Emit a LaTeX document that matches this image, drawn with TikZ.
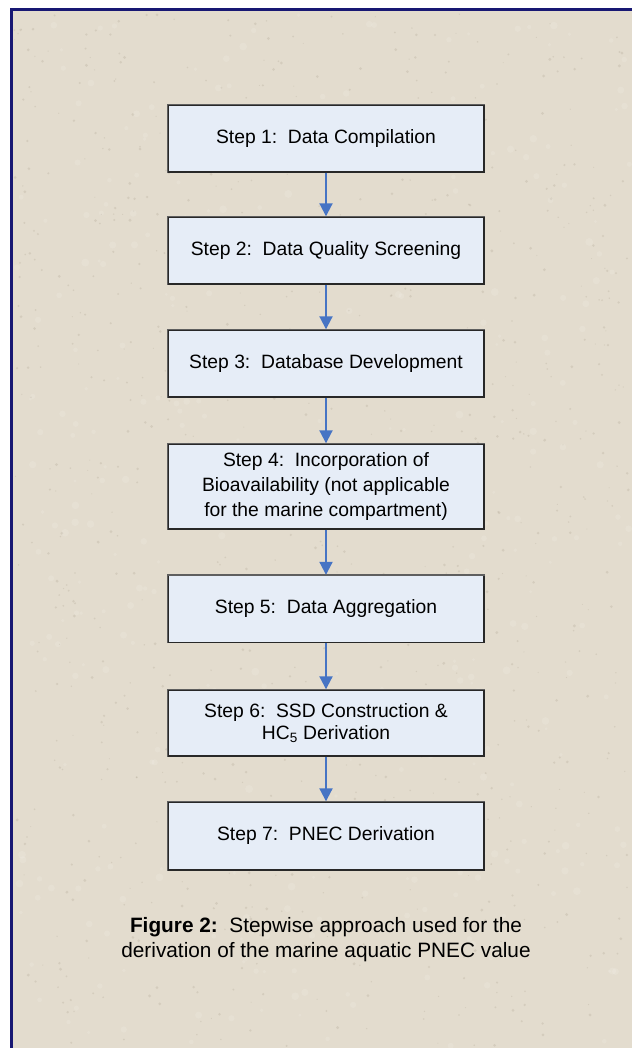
\documentclass[tikz,border=0pt]{standalone}
\usepackage{fontspec}
\setmainfont{Liberation Sans}
\usetikzlibrary{arrows.meta}
\definecolor{paper}{RGB}{227,220,206}
\definecolor{grain}{RGB}{185,175,158}
\definecolor{boxfill}{RGB}{230,237,247}
\definecolor{boxline}{RGB}{40,40,40}
\definecolor{boxedge}{RGB}{95,95,95}
\definecolor{flow}{RGB}{70,116,196}
\definecolor{frame}{RGB}{24,24,115}
\tikzset{
  stepbox/.style={draw=boxline, line width=1.4pt, fill=boxfill,
    minimum width=316pt, minimum height=67pt, inner sep=0pt,
    align=center, text=black,
    font=\fontsize{19.3pt}{25pt}\selectfont},
  flowarrow/.style={draw=flow, line width=2pt,
    -{Triangle[width=13pt,length=13pt]}},
  caption/.style={align=center, text=black,
    font=\fontsize{20.8pt}{25pt}\selectfont}
}
\begin{document}
\begin{tikzpicture}[x=1pt,y=-1pt]
  \useasboundingbox (0,0) rectangle (632,1048);
  % sheet with a light grain, and its frame
  \fill[white] (0,0) rectangle (632,1048);
  \fill[paper] (11,10) rectangle (632,1048);
  \pgfmathsetseed{2718}
  \foreach \k in {1,...,900} {
    \pgfmathsetmacro{\gx}{14+rnd*616}
    \pgfmathsetmacro{\gy}{13+rnd*1033}
    \pgfmathsetmacro{\gr}{0.5+rnd*1.1}
    \fill[grain, opacity=0.35] (\gx,\gy) circle[radius=\gr pt];
  }
  \foreach \k in {1,...,400} {
    \pgfmathsetmacro{\gx}{14+rnd*616}
    \pgfmathsetmacro{\gy}{13+rnd*1033}
    \pgfmathsetmacro{\gr}{1.5+rnd*2.5}
    \fill[white, opacity=0.12] (\gx,\gy) circle[radius=\gr pt];
  }
  \draw[frame, line width=3pt] (11,1048) -- (11,10) -- (632,10);

  % process steps
  \node[stepbox] (s1) at (326,138.5) {Step 1:\ \ Data Compilation};
  \node[stepbox] (s2) at (326,250.5) {Step 2:\ \ Data Quality Screening};
  \node[stepbox] (s3) at (326,363.5) {Step 3:\ \ Database Development};
  \node[stepbox, minimum height=85pt] (s4) at (326,486.5)
    {Step 4:\ \ Incorporation of\\Bioavailability (not applicable\\for the marine compartment)};
  \node[stepbox] (s5) at (326,609) {Step 5:\ \ Data Aggregation};
  \node[stepbox, minimum height=66pt] (s6) at (326,723)
    {Step 6:\ \ SSD Construction \&\\[-3pt]HC\textsubscript{5} Derivation};
  \node[stepbox, minimum height=68pt] (s7) at (326,836) {Step 7:\ \ PNEC Derivation};

  % lighter top and left edges of each step box
  \foreach \s in {s1,s2,s3,s4,s5,s6,s7}
    \draw[boxedge, line width=1.4pt] (\s.south west) -- (\s.north west) -- (\s.north east);

  % connectors
  \draw[flowarrow] (s1.south) -- (s2.north);
  \draw[flowarrow] (s2.south) -- (s3.north);
  \draw[flowarrow] (s3.south) -- (s4.north);
  \draw[flowarrow] (s4.south) -- (s5.north);
  \draw[flowarrow] (s5.south) -- (s6.north);
  \draw[flowarrow] (s6.south) -- (s7.north);

  % caption
  \node[caption] (cap) at (326,940)
    {\textbf{Figure 2:}\ \ Stepwise approach used for the\\derivation of the marine aquatic PNEC value};
\end{tikzpicture}
\end{document}
